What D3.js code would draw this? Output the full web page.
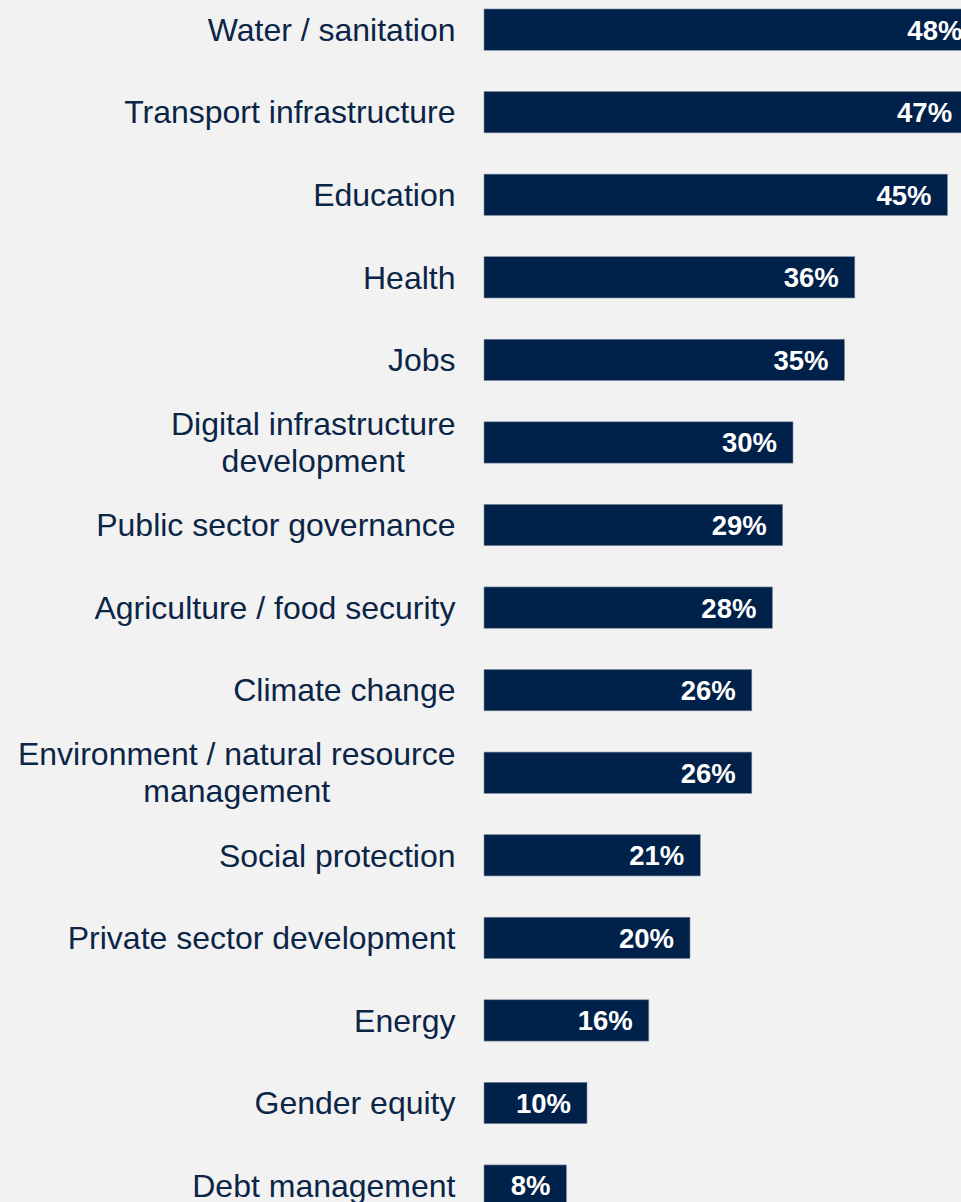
<!DOCTYPE html>
<html>
<head>
<meta charset="utf-8">
<script src="https://cdn.jsdelivr.net/npm/d3@7"></script>
<style>
  html, body { margin: 0; padding: 0; background: #f2f2f2; }
  svg { display: block; }
</style>
</head>
<body>
<svg id="chart" width="961" height="1202"></svg>
<script>
// Share of respondents naming each sector (%)
const categories = [
  ["Water / sanitation"],
  ["Transport infrastructure"],
  ["Education"],
  ["Health"],
  ["Jobs"],
  ["Digital infrastructure", "development"],
  ["Public sector governance"],
  ["Agriculture / food security"],
  ["Climate change"],
  ["Environment / natural resource", "management"],
  ["Social protection"],
  ["Private sector development"],
  ["Energy"],
  ["Gender equity"],
  ["Debt management"]
];
const values = [48, 47, 45, 36, 35, 30, 29, 28, 26, 26, 21, 20, 16, 10, 8];

const W = 961, H = 1202;
const navy = "#00214a";
const textColor = "#0b2547";

const svg = d3.select("#chart");
svg.append("rect").attr("width", W).attr("height", H).attr("fill", "#f2f2f2");

const keys = categories.map(c => c.join(" "));
const rows = keys.map((k, i) => ({ key: k, lines: categories[i], value: values[i] }));

const barLeft = 484;
const x = d3.scaleLinear().domain([0, 100]).range([barLeft, barLeft + 1030]);
const y = d3.scaleBand().domain(keys).range([-32.3, 1247.5]).paddingInner(0.5).paddingOuter(0.5);

const g = svg.append("g");

// bars
g.selectAll("rect.bar").data(rows).join("rect")
  .attr("class", "bar")
  .attr("x", x(0))
  .attr("y", d => y(d.key))
  .attr("width", d => x(d.value) - x(0))
  .attr("height", y.bandwidth())
  .attr("fill", navy)
  .attr("stroke", "#7d8a9b")
  .attr("stroke-width", 0.6);

// value labels inside bar ends
g.selectAll("text.val").data(rows).join("text")
  .attr("class", "val")
  .attr("x", d => x(d.value) - 16)
  .attr("y", d => y(d.key) + y.bandwidth() / 2)
  .attr("dy", "0.36em")
  .attr("text-anchor", "end")
  .attr("fill", "#ffffff")
  .attr("font-family", "Liberation Sans, Arial, sans-serif")
  .attr("font-weight", "bold")
  .attr("font-size", 27.5)
  .text(d => d.value + "%");

// category labels: block right-aligned, lines centred within the block
const labelRight = 455.5;
const lineH = 37;
const fontSize = 32;
const labels = g.selectAll("g.lab").data(rows).join("g").attr("class", "lab");
labels.each(function (d) {
  const gg = d3.select(this);
  const cy = y(d.key) + y.bandwidth() / 2;
  const n = d.lines.length;
  const texts = d.lines.map((line, i) =>
    gg.append("text")
      .attr("y", cy + (i - (n - 1) / 2) * lineH)
      .attr("dy", "0.35em")
      .attr("fill", textColor)
      .attr("font-family", "Liberation Sans, Arial, sans-serif")
      .attr("font-size", fontSize)
      .attr("text-anchor", "middle")
      .text(line));
  const widths = texts.map(t => t.node().getComputedTextLength());
  const maxW = d3.max(widths);
  texts.forEach(t => t.attr("x", labelRight - maxW / 2));
});
</script>
</body>
</html>
